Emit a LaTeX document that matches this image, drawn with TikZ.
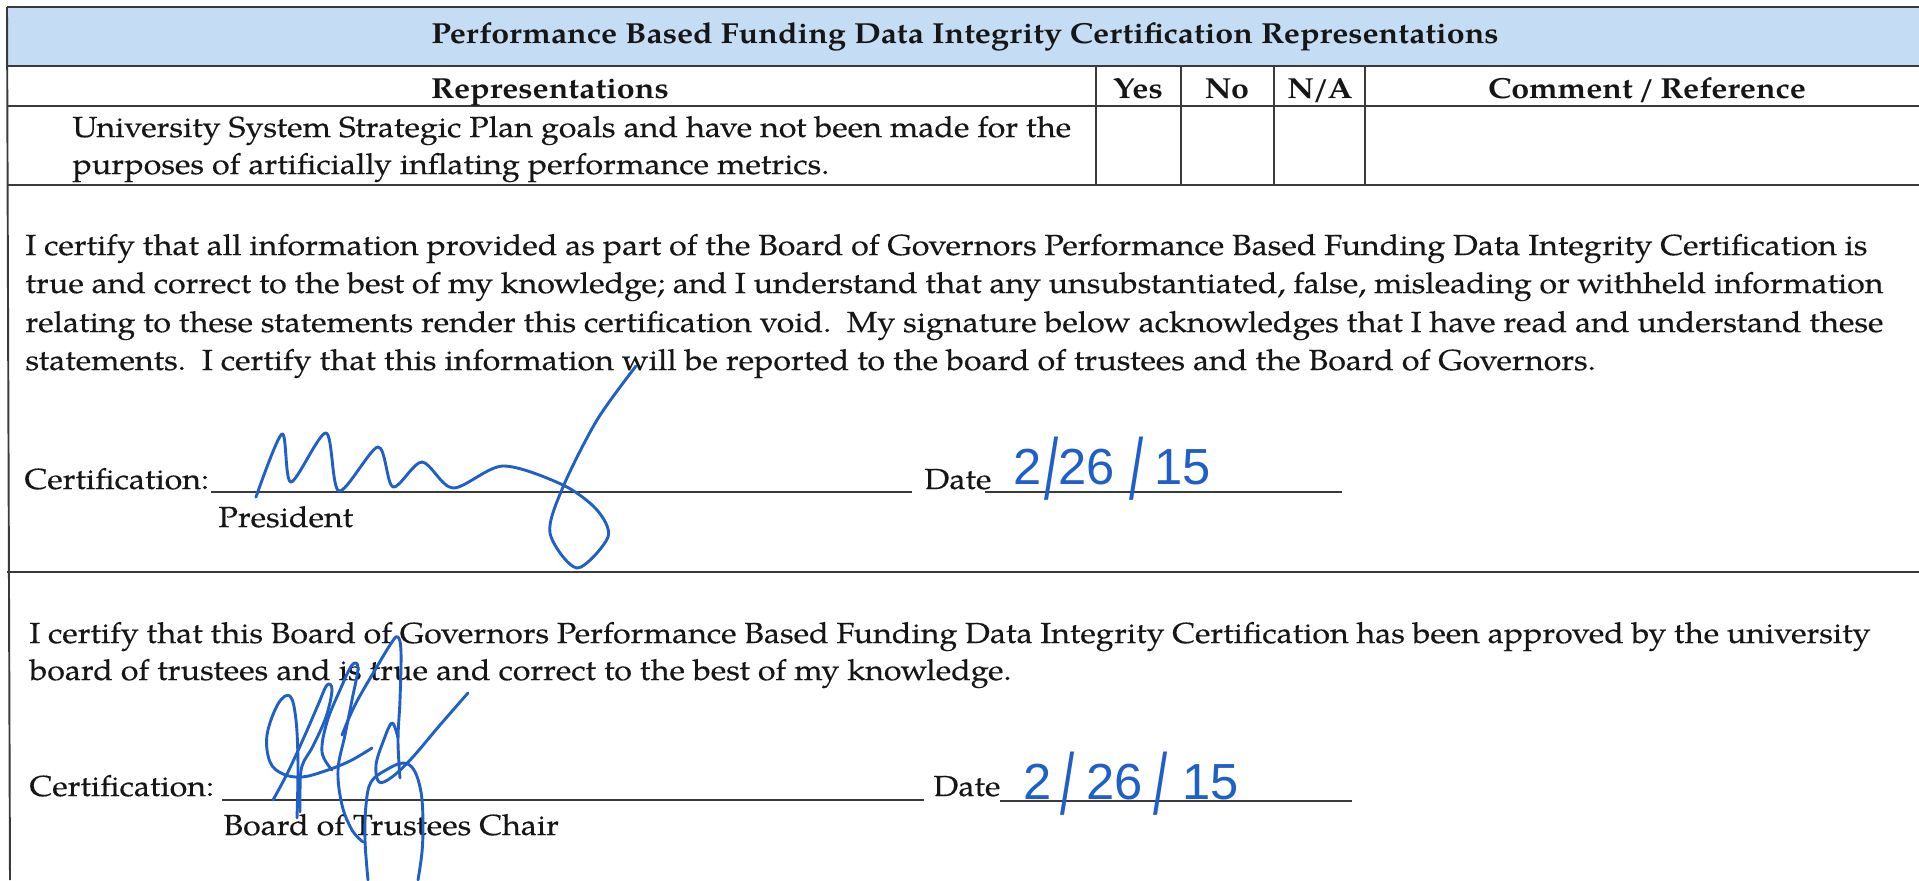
\documentclass[tikz,border=0pt]{standalone}
\usepackage{fontspec}
\setmainfont{TeX Gyre Pagella}[FakeStretch=1.11, UprightFeatures={FakeBold=0.3}]
\newfontfamily\datefont{Liberation Sans}
\definecolor{ink}{HTML}{1F5FC8}
\definecolor{hdr}{RGB}{197,221,244}
\definecolor{rulec}{HTML}{3A3A3A}
\definecolor{txt}{HTML}{161616}
\newcommand{\jline}[2]{\makebox[\dimexpr0.414pt*#1\relax][s]{#2}}
\newcommand{\bigsl}{\raisebox{-0.3em}{\scalebox{1}[1.7]{/}}}
\begin{document}
\begin{tikzpicture}[x=0.414pt,y=-0.414pt,
  rl/.style={draw=rulec,line width=0.8pt},
  ul/.style={draw=rulec,line width=0.7pt},
  tx/.style={anchor=base west,inner sep=0pt,text=txt,font=\fontsize{12}{14}\selectfont},
  hd/.style={anchor=base,inner sep=0pt,text=txt,font=\fontsize{12}{14}\selectfont\bfseries},
  sig/.style={draw=ink,line width=1.2pt,line cap=round,line join=round},
  dt/.style={anchor=base west,inner sep=0pt,text=ink,font=\datefont\fontsize{21}{22}\selectfont}]
\useasboundingbox (0,0) rectangle (1919,880);
\fill[white] (0,0) rectangle (1919,880);
% header fill
\fill[hdr] (7,7) rectangle (1919,66);
% table rules
\draw[rl] (7,7) -- (1919,7);
\draw[rl] (7,66) -- (1919,66);
\draw[rl] (7,106) -- (1919,106);
\draw[rl] (7,185) -- (1919,185);
\draw[rl] (7,572) -- (1919,572);
\draw[rl] (7,7) -- (10,880);
\foreach \cx in {1096,1181,1274,1365} \draw[rl] (\cx,66) -- (\cx,185);
% header texts
\node[hd] (title) at (965,43) {Performance Based Funding Data Integrity Certification Representations};
\node[hd] (hrep) at (550,98) {Representations};
\node[hd] (hyes) at (1138,98) {Yes};
\node[hd] (hno) at (1227,98) {No};
\node[hd] (hna) at (1320,98) {N\kern-0.6pt/\kern-0.6pt A};
\node[hd] (hcom) at (1647,98) {Comment\hspace{0.18em}/\hspace{0.2em}Reference};
% row 3
\node[tx] (r1) at (72,137) {University System Strategic Plan goals and have not been made for the};
\node[tx] (r2) at (72,174) {purposes of artificially inflating performance metrics.};
% paragraph 1
\node[tx] (p1a) at (25,255) {\jline{1842}{I certify that all information provided as part of the Board of Governors Performance Based Funding Data Integrity Certification is}};
\node[tx] (p1b) at (25,293) {\jline{1858}{true and correct to the best of my knowledge; and I understand that any unsubstantiated, false, misleading or withheld information}};
\node[tx] (p1c) at (25,332) {\jline{1858}{relating to these statements render this certification void.\ \ My signature below acknowledges that I have read and understand these}};
\node[tx] (p1d) at (25,370) {statements.\ \ I certify that this information will be reported to the board of trustees and the Board of Governors.};
% certification 1
\node[tx] (c1) at (24,489) {Certification:};
\coordinate (u1a) at (211,492); \coordinate (u1b) at (912,492);
\draw[ul] (u1a) -- (u1b);
\node[tx] (d1) at (924,489) {Date};
\coordinate (u2a) at (985,492); \coordinate (u2b) at (1342,492);
\draw[ul] (u2a) -- (u2b);
\node[tx] (pres) at (218,527) {President};
% paragraph 2
\node[tx] (p2a) at (29,643) {\jline{1841}{I certify that this Board of Governors Performance Based Funding Data Integrity Certification has been approved by the university}};
\node[tx] (p2b) at (29,680) {board of trustees and is true and correct to the best of my knowledge.};
% certification 2
\node[tx] (c2) at (29,796) {Certification:};
\coordinate (u3a) at (222,800); \coordinate (u3b) at (924,800);
\draw[ul] (u3a) -- (u3b);
\node[tx] (d2) at (933,796) {Date};
\coordinate (u4a) at (1000,801); \coordinate (u4b) at (1352,801);
\draw[ul] (u4a) -- (u4b);
\node[tx] (chair) at (223,835) {Board of Trustees Chair};
% handwritten dates
\node[dt] (date1) at (1013,484) {2\kern1pt\bigsl 26\kern6pt\bigsl\kern4.5pt 15};
\node[dt] (date2) at (1023,799) {2\kern3.5pt\bigsl\kern5pt 26\kern4.5pt\bigsl\kern6pt 15};
% signature 1
\draw[sig] plot[smooth,tension=0.5] coordinates {(256,497) (282,434) (291,482) (326,433) (339,491) (378,447) (393,487) (422,462) (453,488) (503,466) (563,485) (597,510) (608,537) (577,568) (550,533) (563,487) (597,420) (636,366)};
% signature 2
\draw[sig] plot[smooth,tension=0.6] coordinates {(297,818) (298,765) (296,720) (290,696) (278,704) (267,735) (270,762) (283,774) (302,777) (325,771) (350,761) (372,748)};
\draw[sig] plot[smooth,tension=0.6] coordinates {(273,800) (288,772) (305,735) (318,705) (327,685) (332,690) (326,717) (313,746) (302,766) (300,790) (300,812)};
\draw[sig] plot[smooth,tension=0.6] coordinates {(332,770) (322,752) (327,722) (340,690) (352,665) (358,668) (352,700) (345,735) (338,770) (342,805) (352,830) (363,842)};
\draw[sig] plot[smooth,tension=0.6] coordinates {(342,735) (355,705) (375,670) (392,642) (398,637) (401,652) (400,700) (398,740) (400,778)};
\draw[sig] plot[smooth,tension=0.6] coordinates {(398,738) (392,723) (383,742) (376,765) (379,782) (392,777) (412,758) (440,725) (468,693)};
\draw[sig] plot[smooth,tension=0.6] coordinates {(368,880) (365,840) (366,805) (371,782) (386,770) (403,763) (414,770) (421,792) (423,822) (422,852) (418,880)};
\end{tikzpicture}
\end{document}
